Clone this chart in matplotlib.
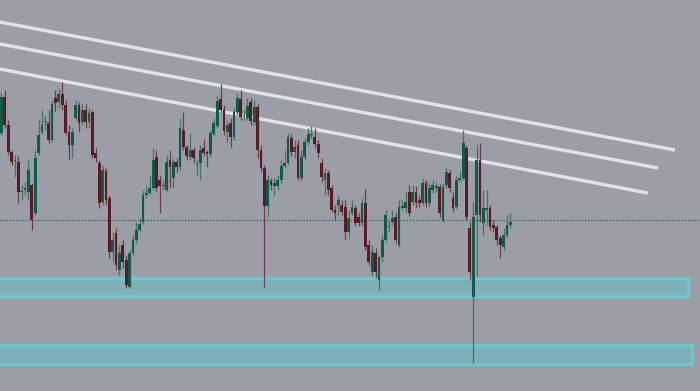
import numpy as np
import matplotlib.pyplot as plt

# OHLC (arbitrary price units, one bar per candle)
opens = [267, 303, 275, 248, 239, 238, 208, 210, 208, 215, 187, 247, 268, 278, 277, 260, 302, 298, 306, 295,
         268, 255, 282, 295, 278, 290, 278, 288, 247, 237, 198, 229, 202, 148, 167, 130, 155, 140, 113, 147,
         160, 170, 178, 205, 207, 212, 243, 220, 214, 210, 240, 222, 238, 233, 270, 253, 243, 250, 235, 237,
         252, 248, 246, 266, 274, 301, 290, 268, 277, 263, 288, 301, 284, 282, 298, 278, 293, 250, 232, 194,
         219, 214, 214, 220, 234, 237, 262, 248, 255, 222, 243, 258, 265, 263, 256, 237, 220, 227, 212, 190,
         195, 195, 193, 168, 187, 192, 183, 177, 197, 155, 128, 147, 120, 143, 160, 173, 178, 183, 155, 192,
         192, 208, 198, 208, 200, 197, 217, 197, 210, 212, 213, 180, 215, 227, 202, 193, 220, 222, 252, 172,
         103, 185, 240, 177, 190, 192, 175, 173, 162, 153, 165, 175]
highs = [308, 310, 280, 250, 245, 244, 215, 218, 240, 217, 250, 280, 290, 285, 290, 300, 310, 312, 318, 300,
         275, 272, 300, 298, 297, 296, 292, 290, 252, 240, 235, 232, 205, 168, 172, 155, 160, 145, 150, 165,
         178, 182, 210, 215, 225, 252, 250, 225, 220, 245, 250, 242, 242, 282, 288, 255, 267, 253, 240, 255,
         261, 250, 270, 282, 305, 316, 295, 280, 282, 292, 307, 310, 290, 302, 302, 300, 296, 255, 235, 225,
         222, 222, 225, 240, 250, 267, 266, 260, 260, 250, 262, 272, 274, 272, 260, 242, 232, 230, 215, 195,
         205, 200, 200, 190, 200, 195, 188, 202, 211, 160, 155, 152, 145, 165, 190, 180, 190, 188, 200, 200,
         208, 215, 215, 214, 205, 222, 220, 217, 220, 218, 216, 217, 232, 230, 208, 224, 228, 270, 255, 178,
         198, 255, 257, 210, 210, 195, 180, 175, 165, 172, 185, 187]
lows = [265, 272, 245, 235, 223, 197, 200, 204, 200, 170, 185, 245, 266, 270, 257, 258, 288, 292, 290, 265,
        240, 242, 280, 268, 275, 272, 272, 242, 238, 192, 195, 195, 142, 138, 130, 125, 132, 112, 112, 144,
        157, 168, 176, 202, 205, 210, 208, 187, 210, 208, 212, 212, 228, 230, 250, 240, 240, 237, 225, 220,
        244, 233, 243, 264, 272, 287, 265, 258, 253, 260, 285, 280, 280, 280, 275, 275, 242, 228, 113, 183,
        210, 205, 210, 217, 232, 235, 244, 242, 220, 220, 240, 255, 262, 252, 242, 218, 205, 205, 188, 180,
        185, 185, 160, 162, 185, 174, 174, 174, 150, 135, 124, 122, 110, 138, 158, 168, 175, 157, 153, 190,
        188, 184, 195, 192, 193, 195, 193, 194, 207, 208, 183, 178, 212, 208, 188, 191, 218, 220, 180, 120,
        37, 123, 178, 165, 175, 170, 168, 155, 142, 150, 162, 172]
closes = [303, 275, 248, 238, 240, 208, 209, 212, 230, 180, 242, 265, 275, 279, 260, 296, 297, 306, 295, 267,
          255, 268, 295, 277, 290, 278, 287, 245, 242, 197, 230, 200, 148, 160, 135, 147, 138, 115, 147, 160,
          170, 176, 205, 207, 212, 240, 212, 214, 215, 238, 233, 238, 233, 272, 253, 244, 250, 242, 236, 250,
          247, 246, 267, 277, 299, 290, 269, 275, 263, 288, 302, 283, 285, 294, 279, 293, 250, 232, 194, 220,
          215, 217, 220, 234, 237, 263, 248, 253, 222, 243, 258, 266, 266, 256, 247, 223, 227, 210, 190, 187,
          200, 188, 168, 182, 193, 177, 177, 197, 153, 138, 148, 128, 143, 160, 185, 174, 182, 160, 193, 194,
          198, 187, 208, 197, 197, 217, 197, 212, 215, 214, 187, 213, 228, 212, 192, 220, 222, 257, 183, 128,
          183, 240, 185, 192, 192, 173, 172, 160, 155, 165, 175, 178]

# drawn objects: trend lines (bar index, price) and support zones (price bands)
trend_lines = [((-0.5, 378), (199.9, 250)),
               ((-0.5, 356), (194.8, 232)),
               ((-0.5, 331), (191.8, 207))]
zones = [(104, 122, 203.7), (36, 55, 204.9)]
last_price = 180

bg = "#9c9ea7"
up_body, up_wick = "#0f5b4b", "#3f7563"
dn_body, dn_wick = "#5a1b22", "#6d3d42"

fig = plt.figure(figsize=(7, 3.91), dpi=100)
fig.patch.set_facecolor(bg)
ax = fig.add_axes([0, 0, 1, 1])
ax.set_facecolor(bg)

o = np.array(opens, float)
h = np.array(highs, float)
l = np.array(lows, float)
c = np.array(closes, float)
x = np.arange(len(o))
up = c >= o

# zones
for lo, hi, x_end in zones:
    ax.fill_between([-2, x_end], lo, hi, color="#80b0b7", zorder=1)
    ax.plot([-2, x_end, x_end, -2, -2], [lo, lo, hi, hi, lo], color="#62ccd2",
            lw=2.4, solid_joinstyle="miter", zorder=2)

ax.axhline(last_price, color="#2c5852", lw=0.9, ls=(0, (1, 1.5)), zorder=3)

for (x0, y0), (x1, y1) in trend_lines:
    ax.plot([x0, x1], [y0, y1], color="#e2e2e8", lw=2.4, solid_capstyle="butt", zorder=3)

# candles
ax.vlines(x[up], l[up], h[up], color=up_wick, lw=0.9, zorder=4)
ax.vlines(x[~up], l[~up], h[~up], color=dn_wick, lw=0.9, zorder=4)
body = np.maximum(np.abs(c - o), 1.0)
bottom = np.minimum(o, c)
ax.bar(x[up], body[up], bottom=bottom[up], width=0.82, color=up_body, zorder=5)
ax.bar(x[~up], body[~up], bottom=bottom[~up], width=0.82, color=dn_body, zorder=5)

ax.set_xlim(-0.445, 207.3)
ax.set_ylim(9, 400)
ax.axis("off")

fig.savefig("out.png", dpi=100, facecolor=bg)
